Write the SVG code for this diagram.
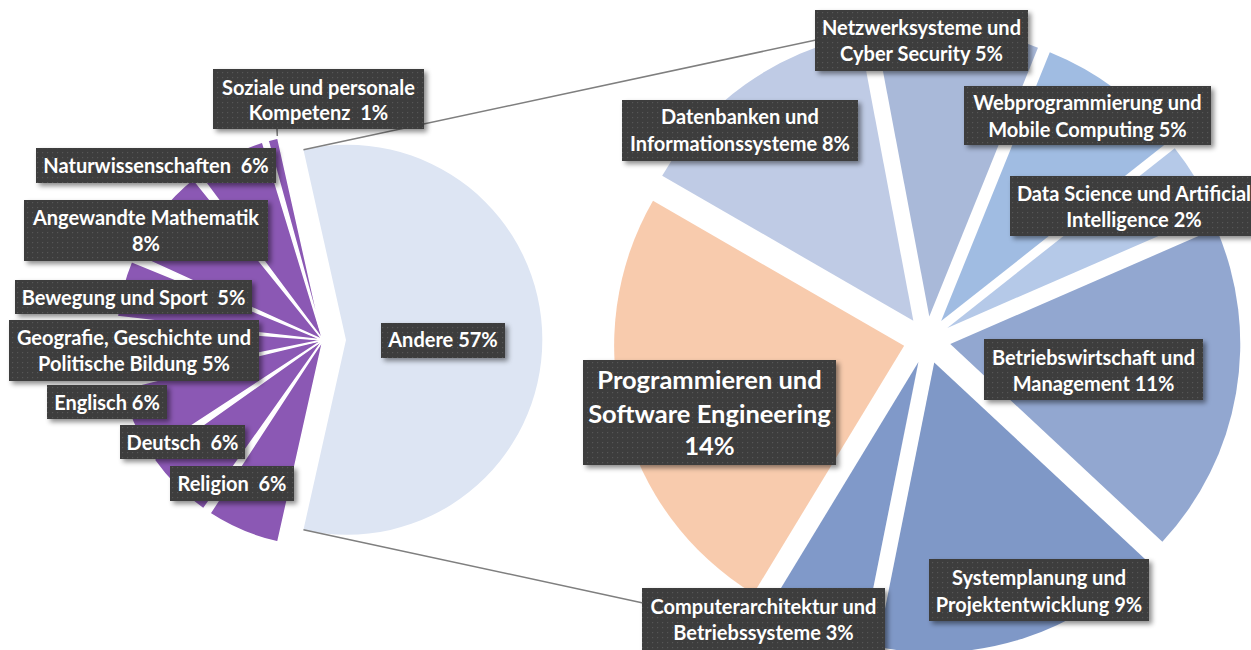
<svg xmlns="http://www.w3.org/2000/svg" width="1251" height="650" viewBox="0 0 1251 650">
<style>
.t{font-family:Lato,"Liberation Sans",sans-serif;font-weight:bold;font-size:20px;fill:#ffffff;text-anchor:middle;white-space:pre}
.big{font-size:25.5px}
.box{fill:url(#dots);filter:url(#sh)}
.pu{fill:#8b58b4;stroke:#ffffff;stroke-width:1.5;stroke-linejoin:round}
.ln{stroke:#7f7f7f;stroke-width:1.5;fill:none}
</style>
<defs>
<pattern id="dots" width="5" height="5" patternUnits="userSpaceOnUse">
<rect width="5" height="5" fill="#3c3c3c"/>
<rect x="2" y="2" width="1.2" height="1.2" fill="#575757"/>
</pattern>
<filter id="sh" x="-10%" y="-20%" width="130%" height="160%">
<feDropShadow dx="3" dy="3" stdDeviation="2.5" flood-color="#000000" flood-opacity="0.45"/>
</filter>
</defs>
<rect width="1251" height="650" fill="#ffffff"/>

<g id="slice-religion"><path class="pu" d="M323,340 L277.84,542.02 A207,207 0 0 1 209.96,513.41 Z"/></g>
<g id="slice-deutsch"><path class="pu" d="M323,340 L203.38,508.94 A207,207 0 0 1 154.06,459.62 Z"/></g>
<g id="slice-englisch"><path class="pu" d="M323,340 L149.59,453.04 A207,207 0 0 1 121.89,389.03 Z"/></g>
<g id="slice-geografie"><path class="pu" d="M323,340 L120.16,381.27 A207,207 0 0 1 116.58,324.48 Z"/></g>
<g id="slice-bewegung"><path class="pu" d="M323,340 L117.33,316.57 A207,207 0 0 1 131.48,261.45 Z"/></g>
<g id="slice-mathematik"><path class="pu" d="M323,340 L134.64,254.16 A207,207 0 0 1 193.01,178.90 Z"/></g>
<g id="slice-naturwissenschaften"><path class="pu" d="M323,340 L199.25,174.06 A207,207 0 0 1 262.48,142.05 Z"/></g>
<g id="slice-soziale"><path class="pu" d="M323,340 L268.03,140.43 A207,207 0 0 1 277.84,137.98 Z"/></g>
<g id="slice-andere"><path fill="#dde5f3" d="M346,340 L303.46,149.70 A195,195 0 1 1 303.46,529.70 Z"/></g>

<g id="slice-computerarchitektur"><path fill="#8099c9" d="M918.43,361.99 L861.60,646.37 A290,290 0 0 1 767.77,609.78 Z"/></g>
<g id="slice-programmieren"><path fill="#f8cbad" d="M904.14,345.85 L753.48,593.64 A290,290 0 0 1 652.99,200.85 Z"/></g>
<g id="slice-datenbanken"><path fill="#bfcbe5" d="M913.34,320.75 L662.19,175.75 A290,290 0 0 1 859.50,35.79 Z"/></g>
<g id="slice-netzwerk"><path fill="#a9b9d9" d="M929.32,316.51 L875.48,31.55 A290,290 0 0 1 1037.96,47.63 Z"/></g>
<g id="slice-web"><path fill="#a0bce2" d="M941.15,321.11 L1049.79,52.23 A290,290 0 0 1 1168.63,141.39 Z"/></g>
<g id="slice-datascience"><path fill="#b5c9e8" d="M947.25,327.88 L1174.73,148.16 A290,290 0 0 1 1213.20,212.24 Z"/></g>
<g id="slice-betriebswirtschaft"><path fill="#92a7d0" d="M950.26,344.00 L1216.21,228.36 A290,290 0 0 1 1162.35,541.78 Z"/></g>
<g id="slice-systemplanung"><path fill="#7f98c7" d="M934.23,362.46 L1146.32,560.24 A290,290 0 0 1 877.40,646.84 Z"/></g>

<g id="connectors">
<line class="ln" x1="303.46" y1="149.70" x2="816" y2="40"/>
<line class="ln" x1="303.46" y1="529.70" x2="643" y2="603"/>
<line class="ln" x1="277" y1="129" x2="277.3" y2="136"/>
</g>

<g id="label-soziale"><rect class="box" x="213" y="69" width="211" height="60"/><text class="t" x="318.5" y="94.5">Soziale und personale</text><text class="t" x="318.5" y="120">Kompetenz  1%</text></g>
<g id="label-naturwissenschaften"><rect class="box" x="36" y="148" width="240" height="35"/><text class="t" x="156" y="173">Naturwissenschaften  6%</text></g>
<g id="label-mathematik"><rect class="box" x="24" y="200" width="244" height="61"/><text class="t" x="146" y="225">Angewandte Mathematik</text><text class="t" x="146" y="251">8%</text></g>
<g id="label-bewegung"><rect class="box" x="15" y="280" width="237" height="34"/><text class="t" x="133.5" y="305">Bewegung und Sport  5%</text></g>
<g id="label-geografie"><rect class="box" x="9" y="320" width="250" height="61"/><text class="t" x="134" y="345">Geografie, Geschichte und</text><text class="t" x="134" y="371">Politische Bildung 5%</text></g>
<g id="label-englisch"><rect class="box" x="47" y="385" width="120" height="34"/><text class="t" x="107" y="410">Englisch 6%</text></g>
<g id="label-deutsch"><rect class="box" x="120" y="425" width="125" height="34"/><text class="t" x="182.5" y="450">Deutsch  6%</text></g>
<g id="label-religion"><rect class="box" x="170" y="466" width="124" height="35"/><text class="t" x="232" y="491">Religion  6%</text></g>
<g id="label-andere"><rect class="box" x="381" y="323" width="124" height="35"/><text class="t" x="443" y="347">Andere 57%</text></g>

<g id="label-netzwerk"><rect class="box" x="815" y="10" width="213" height="61"/><text class="t" x="921.5" y="35">Netzwerksysteme und</text><text class="t" x="921.5" y="61">Cyber Security 5%</text></g>
<g id="label-datenbanken"><rect class="box" x="622" y="100" width="236" height="61"/><text class="t" x="740" y="124">Datenbanken und</text><text class="t" x="740" y="151">Informationssysteme 8%</text></g>
<g id="label-web"><rect class="box" x="964" y="86" width="247" height="59"/><text class="t" x="1087.5" y="109.5">Webprogrammierung und</text><text class="t" x="1087.5" y="136.5">Mobile Computing 5%</text></g>
<g id="label-datascience"><rect class="box" x="1010" y="176" width="252" height="60"/><text class="t" x="1134" y="201">Data Science und Artificial</text><text class="t" x="1134" y="227">Intelligence 2%</text></g>
<g id="label-betriebswirtschaft"><rect class="box" x="984" y="339" width="219" height="61"/><text class="t" x="1093.5" y="365">Betriebswirtschaft und</text><text class="t" x="1093.5" y="391">Management 11%</text></g>
<g id="label-programmieren"><rect class="box" x="583" y="360" width="253" height="105"/><text class="t big" x="709.5" y="389">Programmieren und</text><text class="t big" x="709.5" y="423">Software Engineering</text><text class="t big" x="709.5" y="455">14%</text></g>
<g id="label-systemplanung"><rect class="box" x="929" y="559" width="220" height="62"/><text class="t" x="1039" y="585">Systemplanung und</text><text class="t" x="1039" y="612">Projektentwicklung 9%</text></g>
<g id="label-computerarchitektur"><rect class="box" x="642" y="588" width="243" height="64"/><text class="t" x="763.5" y="614">Computerarchitektur und</text><text class="t" x="763.5" y="640">Betriebssysteme 3%</text></g>
</svg>
